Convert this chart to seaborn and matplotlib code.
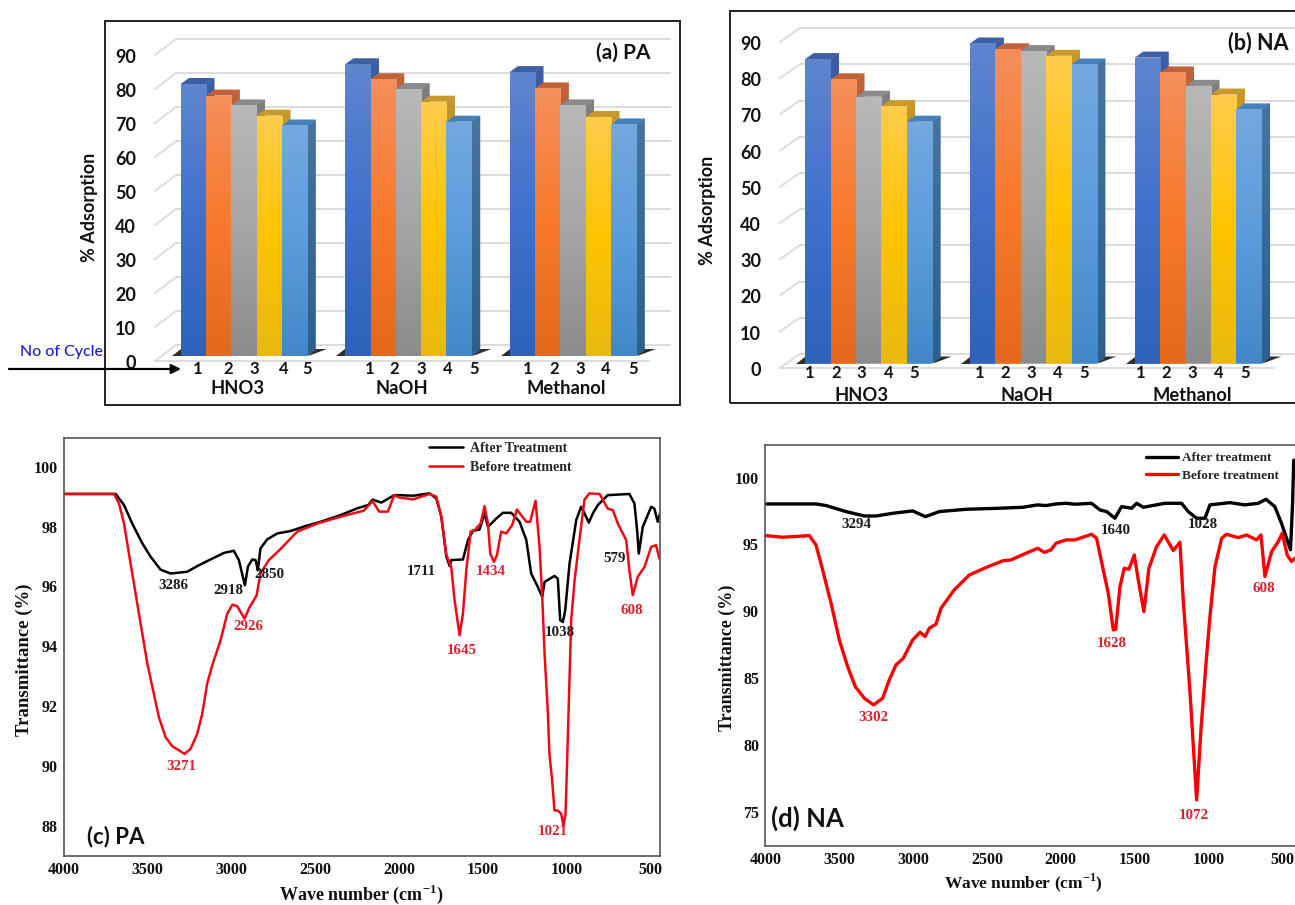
import numpy as np
import pandas as pd
import matplotlib
matplotlib.use("Agg")
import matplotlib.pyplot as plt
import seaborn as sns
from matplotlib.colors import LinearSegmentedColormap
from matplotlib.patches import Polygon, Rectangle, FancyArrowPatch
from matplotlib.transforms import Affine2D

solvents = ["HNO3", "NaOH", "Methanol"]
cycles = ["1", "2", "3", "4", "5"]
pa_hno3 = [80.0, 76.6, 73.7, 70.7, 67.8]
pa_naoh = [85.8, 81.4, 78.5, 74.8, 68.9]
pa_meoh = [83.5, 78.7, 73.7, 70.3, 68.1]
na_hno3 = [84.1, 78.5, 73.7, 71.1, 66.8]
na_naoh = [88.4, 86.8, 86.3, 85.0, 82.6]
na_meoh = [84.5, 80.4, 76.7, 74.3, 70.2]
y_ticks_bar = [0, 10, 20, 30, 40, 50, 60, 70, 80, 90]

c_after_w = [4000,3690,3640,3591,3531,3481,3422,3362,3263,3203,3124,3044,2985,2955,2931,2919,2901,2875,2855,2842,2826,2786,2726,2647,2567,2468,2349,2249,2183,2157,2105,2028,1996,1916,1817,1777,1747,1717,1697,1688,1618,1588,1558,1519,1489,1469,1419,1380,1330,1280,1240,1211,1171,1145,1131,1072,1052,1038,1022,1008,982,942,913,893,867,843,813,754,625,595,579,569,545,495,476,456,442]
c_after_t = [99.09,99.09,98.72,98.1,97.44,96.99,96.56,96.43,96.49,96.68,96.9,97.12,97.19,96.88,96.32,96.04,96.66,96.9,96.88,96.54,97.27,97.57,97.77,97.85,98.0,98.16,98.38,98.61,98.72,98.9,98.8,99.05,99.05,99.03,99.11,98.94,98.33,96.99,96.68,96.88,96.9,97.55,97.86,97.9,98.44,97.99,98.27,98.46,98.46,98.16,97.55,96.43,95.98,95.65,96.15,96.35,96.26,94.87,94.81,95.2,96.77,98.22,98.66,98.44,98.13,98.44,98.72,99.05,99.09,98.77,97.88,97.1,97.99,98.66,98.6,98.16,98.44]
c_before_w = [4000,3700,3670,3640,3611,3571,3531,3501,3471,3432,3392,3352,3312,3279,3243,3203,3173,3144,3114,3064,3024,2994,2965,2921,2895,2849,2826,2776,2706,2647,2607,2488,2349,2210,2157,2118,2066,2028,1996,1916,1817,1777,1747,1717,1688,1668,1638,1618,1598,1572,1548,1513,1489,1469,1455,1433,1415,1390,1360,1324,1296,1240,1217,1185,1161,1145,1131,1112,1102,1086,1072,1052,1032,1018,1006,998,986,978,972,952,923,893,863,803,754,724,694,644,625,605,575,535,495,466,446]
c_before_t = [99.09,99.09,98.77,98.1,97.1,95.76,94.42,93.42,92.64,91.63,90.96,90.66,90.52,90.4,90.57,91.08,91.75,92.75,93.36,94.2,95.09,95.39,95.34,94.92,95.26,95.7,96.43,96.88,97.25,97.6,97.83,98.1,98.33,98.53,98.85,98.5,98.5,99.05,98.97,98.91,99.09,99.0,98.33,97.05,96.65,95.54,94.37,95.09,96.54,97.83,97.88,98.1,98.68,98.1,97.1,96.82,97.05,97.83,97.77,98.05,98.57,98.16,98.16,98.86,97.32,95.65,93.75,91.86,90.41,89.52,88.51,88.51,88.4,88.0,88.4,89.85,92.19,93.75,94.87,96.2,97.55,98.9,99.11,99.09,98.6,98.55,98.1,97.55,96.54,95.71,96.32,96.65,97.32,97.38,96.93]
d_after_w = [3995,3657,3589,3454,3330,3251,3138,3003,2917,2822,2642,2416,2259,2157,2101,2033,1965,1905,1792,1735,1690,1634,1589,1521,1487,1442,1296,1183,1138,1082,1025,991,856,755,664,612,552,507,446,432,424,400]
d_after_t = [98.03,98.03,97.91,97.46,97.13,97.13,97.33,97.51,97.08,97.46,97.63,97.71,97.78,97.96,97.91,98.03,98.08,98.01,98.08,97.58,97.46,96.96,97.83,97.71,98.08,97.78,98.08,98.08,97.46,96.96,96.96,97.96,98.13,97.96,98.08,98.38,97.83,96.59,94.6,98.0,101.3,101.3]
d_before_w = [3995,3882,3702,3657,3612,3555,3499,3443,3391,3330,3267,3206,3161,3116,3066,3003,2953,2919,2890,2845,2811,2721,2619,2507,2394,2338,2236,2157,2112,2067,2033,1965,1905,1792,1758,1713,1679,1645,1629,1600,1571,1539,1503,1476,1438,1404,1352,1300,1239,1194,1172,1127,1081,1052,1014,991,957,912,879,800,743,676,646,619,574,529,502,468,439,416]
d_before_t = [95.66,95.54,95.66,94.96,93.09,90.6,87.85,85.86,84.36,83.49,82.99,83.49,84.86,85.98,86.48,87.85,88.43,88.1,88.73,89.03,90.22,91.6,92.72,93.27,93.77,93.84,94.34,94.71,94.41,94.59,95.09,95.34,95.34,95.76,95.46,93.09,91.35,88.6,88.65,91.84,93.22,93.14,94.21,92.34,89.97,93.22,94.84,95.71,94.54,95.16,90.85,84.11,75.88,81.1,86.6,89.6,93.34,95.46,95.76,95.51,95.71,95.34,95.71,92.6,94.46,95.21,95.84,94.2,93.72,93.97]

W, H = 1295, 905
sns.set_style("white")
plt.rcParams["mathtext.fontset"] = "custom"
plt.rcParams["mathtext.bf"] = "Liberation Serif:bold"
plt.rcParams["mathtext.rm"] = "Liberation Serif:bold"
fig = plt.figure(figsize=(W / 100, H / 100), dpi=100, facecolor="white")


def fx(p):
    return p / W


def fy(p):
    return 1 - p / H


def axes_px(l, t, r, b):
    return fig.add_axes([fx(l), fy(b), (r - l) / W, (b - t) / H])


def ftext(x, y, s, **kw):
    kw.setdefault("ha", "center")
    kw.setdefault("va", "center")
    fig.text(fx(x), fy(y), s, **kw)


STYLES = [
    (("#5f85cf", "#4071cc", "#2f62b8"), ("#3b5ea6", "#2f5597"), ("#3f5fa5",)),
    (("#f58f5c", "#f8792a", "#e4691c"), ("#c2623a", "#a84f22"), ("#bf6238",)),
    (("#b8b8b8", "#a6a6a6", "#8b8b8b"), ("#808080", "#646464"), ("#8a8a8a",)),
    (("#ffcc4d", "#ffc400", "#e9b90f"), ("#c4982a", "#a8800c"), ("#c9992c",)),
    (("#74a8e0", "#5b9cdb", "#4288c8"), ("#45759f", "#2c5f8e"), ("#4580ba",)),
]


def gradient(ax, clip, extent, colors, z):
    cmap = LinearSegmentedColormap.from_list("g", colors)
    im = ax.imshow(np.linspace(0, 1, 128).reshape(-1, 1), cmap=cmap, aspect="auto",
                   extent=extent, origin="upper", zorder=z, interpolation="bilinear")
    im.set_clip_path(clip)


def bar_panel(series, frame, centers, span, base, per10, back, back_x, num_x, num_y, grp_y, ylab_x, tag, tag_xy, tag_size):
    l, t, r, b = frame
    ftop = base - per10 * 9
    L, R = span
    ax = axes_px(L, ftop, R, base)
    rows = [(s, c, v) for s, vals in zip(solvents, series) for c, v in zip(cycles, vals)]
    df = pd.DataFrame(rows, columns=["Solvent", "Cycle", "Adsorption"])
    pal = [st[0][1] for st in STYLES]
    sns.barplot(df, x="Solvent", y="Adsorption", hue="Cycle", palette=pal, width=0.77, gap=0,
                saturation=1, legend=False, ax=ax, linewidth=0)
    sp = centers[1] - centers[0]
    xl = ((L - centers[0]) / sp, (R - centers[0]) / sp)
    ppx = sp
    ppy = per10 / 10
    ddx, ddy = 8.3 / ppx, 6.0 / ppy
    bars = list(ax.patches)
    for k, p in enumerate(bars):
        i = k // 3
        x0, x1, h = p.get_x(), p.get_x() + p.get_width(), p.get_height()
        z = 3 + i
        p.set_zorder(z + 0.4)
        p.set_clip_on(False)
        gradient(ax, p, (x0, x1, 0, h), STYLES[i][0], z + 0.5)
        side = Polygon([(x1, 0), (x1 + ddx, ddy), (x1 + ddx, h + ddy), (x1, h)], closed=True,
                       fc=STYLES[i][1][0], ec="none", zorder=z, clip_on=False)
        ax.add_patch(side)
        gradient(ax, side, (x1, x1 + ddx, 0, h + ddy), STYLES[i][1], z + 0.1)
        top = Polygon([(x0, h), (x1, h), (x1 + ddx, h + ddy), (x0 + ddx, h + ddy)], closed=True,
                      fc=STYLES[i][2][0], ec="none", zorder=z + 0.2, clip_on=False)
        ax.add_patch(top)
        if i == 0:
            ax.add_patch(Polygon([(x0 - 9 / ppx, 0), (x0, 0), (x0, 7 / ppy)], closed=True, fc="#2e2e2e",
                                 ec="none", zorder=2, clip_on=False))
        if i == len(cycles) - 1:
            ax.add_patch(Polygon([(x1 + 1 / ppx, 0), (x1 + 19.5 / ppx, 7 / ppy), (x1 + 7 / ppx, 7 / ppy)],
                                 closed=True, fc="#2e2e2e", ec="none", zorder=2, clip_on=False))
    ax.set_xlim(*xl)
    ax.set_ylim(0, 90)
    back_off = Affine2D().translate(back_x[0] - L, back)
    front_off = -(5.0 if per10 < 35 else 4.3)
    xb = xl[0], (back_x[1] - back_x[0]) / sp + xl[0]
    for v in y_ticks_bar:
        ax.plot(xb, [v, v], color="#dcdcdc", lw=1.4, zorder=1, clip_on=False,
                transform=ax.transData + back_off, solid_capstyle="butt")
        f = (ax.transData + Affine2D().translate(0, front_off)).transform((xl[0], v))
        g = (ax.transData + back_off).transform((xl[0], v))
        fig.add_artist(plt.Line2D([f[0] / W, g[0] / W], [f[1] / H, g[1] / H], color="#dcdcdc", lw=1.4,
                                  transform=fig.transFigure, zorder=0.5))
    ax.plot(xl, [0, 0], color="#dcdcdc", lw=1.4, zorder=1, clip_on=False,
            transform=ax.transData + Affine2D().translate(0, front_off))
    ax.set_facecolor("none")
    for s in ax.spines.values():
        s.set_visible(False)
    ax.set_xticks([])
    ax.set_xlabel("")
    ax.set_ylabel("")
    ax.set_yticks(y_ticks_bar)
    ax.tick_params(axis="y", length=0, pad=13.5)
    off = Affine2D().translate(0, front_off - 1)
    for lab in ax.get_yticklabels():
        lab.set_fontfamily("Lato")
        lab.set_fontweight("bold")
        lab.set_fontsize(13)
        lab.set_color("#111111")
        lab.set_transform(lab.get_transform() + off)
    for xs in num_x:
        for px, c in zip(xs, cycles):
            ftext(px, num_y, c, family="Lato", weight="bold", fontsize=12, color="#111111")
    for gx, name in zip(grp_y[1], solvents):
        ftext(gx, grp_y[0], name, family="Lato", weight="bold", fontsize=13.2, color="#111111")
    ftext(ylab_x[0], ylab_x[1], "% Adsorption", rotation=90, family="Lato", weight="bold",
          fontsize=13, color="#111111")
    ftext(tag_xy[0], tag_xy[1], tag, family="Lato", weight="bold", fontsize=tag_size, color="#111111")
    fig.add_artist(Rectangle((fx(l), fy(b)), (r - l) / W, (b - t) / H, transform=fig.transFigure,
                             fill=False, ec="#222222", lw=1.4, zorder=0.4))
    return ax


bar_panel([pa_hno3, pa_naoh, pa_meoh], (105, 21, 680, 405), (244, 408.5, 573), (155, 649), 356, 34, 11,
          (176, 671),
          [(198, 228, 254, 284, 307), (369.5, 394.6, 421.5, 448, 474), (528, 554, 580, 606, 633)],
          369, (388, (237.6, 401.6, 566)), (89, 207), "(a) PA", (623.5, 53), 15)
bar_panel([na_hno3, na_naoh, na_meoh], (729.5, 11, 1310, 403), (868.7, 1033.5, 1198.5), (780, 1274), 363.5, 36.2, 9.5,
          (799.6, 1320),
          [(810, 835.7, 861.6, 888.6, 914.5), (979.6, 1004.7, 1031.4, 1057.6, 1084.3), (1141, 1166, 1192, 1219, 1245)],
          373, (395, (862, 1027, 1192)), (708, 210), "(b) NA", (1258, 43), 15.5)

ftext(62, 352, "No of Cycle", family="Lato", fontsize=11.5, color="#1c1cd0", weight="medium")
fig.add_artist(FancyArrowPatch((fx(9), fy(369)), (fx(181), fy(369)), transform=fig.transFigure,
                               arrowstyle="-|>", mutation_scale=14, color="black", lw=1.6,
                               shrinkA=0, shrinkB=0, zorder=20))

SERIF = "Liberation Serif"


def spectrum(rect, xlim, ylim, yticks, aw, at, bw, bt, lw, red, names, leg, ticksize):
    ax = axes_px(*rect)
    sns.lineplot(x=aw, y=at, sort=False, estimator=None, color="black", lw=lw, ax=ax, label=names[0])
    sns.lineplot(x=bw, y=bt, sort=False, estimator=None, color=red, lw=lw, ax=ax, label=names[1])
    ax.set_xlim(*xlim)
    ax.set_ylim(*ylim)
    ax.set_xticks([4000, 3500, 3000, 2500, 2000, 1500, 1000, 500])
    ax.set_yticks(yticks)
    ax.tick_params(length=0, pad=4.5)
    for lab in ax.get_xticklabels() + ax.get_yticklabels():
        lab.set_fontfamily(SERIF)
        lab.set_fontweight("bold")
        lab.set_fontsize(ticksize)
        lab.set_color("#111111")
    for s in ax.spines.values():
        s.set_color("#555555")
        s.set_linewidth(1.2)
    ax.legend(frameon=False, loc="upper left", bbox_to_anchor=(fx(leg[0]), fy(leg[1])), bbox_transform=fig.transFigure,
              borderpad=0, borderaxespad=0, handlelength=leg[2], handletextpad=leg[3], labelspacing=leg[4],
              prop={"family": SERIF, "weight": "bold", "size": leg[5]})
    return ax


spectrum((63.7, 438.3, 660.4, 855.7), (4000, 440), (87, 100.95), [88, 90, 92, 94, 96, 98, 100],
         c_after_w, c_after_t, c_before_w, c_before_t, 1.8, "#ee0a14",
         ["After Treatment", "Before treatment"], (428.5, 442, 2.5, 0.5, 0.42, 10), 11.5)
spectrum((765.3, 445.3, 1300, 846), (4000, 381.6), (72.43, 102.42), [75, 80, 85, 90, 95, 100],
         d_after_w, d_after_t, d_before_w, d_before_t, 2.4, "#fa0000",
         ["After treatment", "Before treatment"], (1146, 452, 2.4, 0.3, 0.42, 9.5), 11.5)

BLK, RED = "#1a1a1a", "#d8232e"
c_notes = [("3286", 173.5, 585, BLK), ("2918", 228.5, 590.7, BLK), ("2850", 269, 574, BLK), ("1711", 421.5, 571.7, BLK),
           ("579", 615, 558, BLK), ("1038", 559.4, 633, BLK), ("1434", 491, 571.7, RED), ("2926", 248, 626.7, RED),
           ("3271", 181, 766, RED), ("1645", 462, 650, RED), ("608", 632, 611, RED), ("1021", 553, 831.7, RED)]
d_notes = [("3294", 856.7, 525, BLK), ("1640", 1115.6, 530.7, BLK), ("1028", 1203, 524, BLK), ("3302", 873.4, 717, RED),
           ("1628", 1111.8, 643, RED), ("608", 1264, 588, RED), ("1072", 1193.7, 815, RED)]
for s, x, y, col in c_notes + d_notes:
    ftext(x, y, s, family=SERIF, weight="bold", fontsize=10.8, color=col, zorder=10)

ftext(86.7, 837, "(c) PA", ha="left", family="Lato", weight="bold", fontsize=16, color="#111111")
ftext(771.3, 818, "(d) NA", ha="left", family="Lato", weight="bold", fontsize=18.5, color="#111111")

xlab = r"Wave number (cm$^{\mathbf{-1}}$)"
ftext(24, 660, "Transmittance (%)", rotation=90, family=SERIF, weight="bold", fontsize=13.5, color="#111111")
ftext(361, 894, xlab, family=SERIF, weight="bold", fontsize=13, color="#111111")
ftext(727.5, 658, "Transmittance (%)", rotation=90, family=SERIF, weight="bold", fontsize=13, color="#111111")
ftext(1023, 883, xlab, family=SERIF, weight="bold", fontsize=12.5, color="#111111")

fig.savefig("out.png", dpi=100)
